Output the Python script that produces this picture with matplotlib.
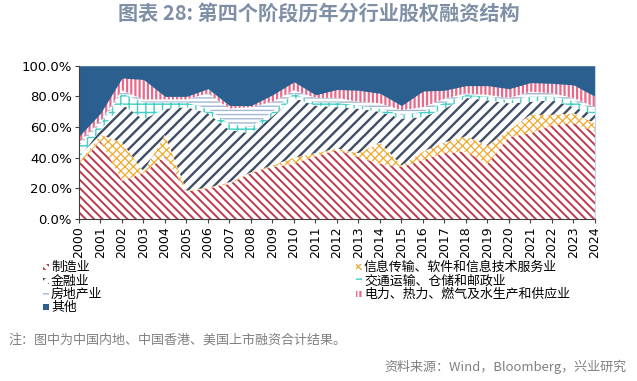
import numpy as np
import matplotlib
matplotlib.use("Agg")
import matplotlib.pyplot as plt
from matplotlib.patches import Rectangle

plt.rcParams['font.family'] = ['Noto Sans CJK SC', 'DejaVu Sans']
plt.rcParams['hatch.linewidth'] = 1.3

# ---- data (share of equity financing, %) ----
years = list(range(2000, 2025))
manufacturing = [36, 51, 25, 30, 41, 18, 20, 23, 30, 34, 36, 41, 45, 40.5, 36, 34, 38.5, 43, 44, 36, 53.5, 56, 61, 62.5, 57]
info_tech = [1, 4, 25, 1, 14, 0.5, 0.5, 1, 0.5, 1, 4, 2, 1, 2.5, 14, 1, 5.5, 7, 10, 12, 4.5, 12, 7, 6.5, 5.5]
finance = [3, 3, 25, 34, 17, 54.5, 48.5, 34, 25.5, 32, 39, 31, 27, 29, 20, 30.5, 22.5, 22, 25, 29.5, 17.5, 8.5, 9.5, 4, 5.5]
transport = [8, 4, 7, 11, 4, 3, 3, 4, 4, 3, 3, 2, 3, 2, 2, 2.5, 3.5, 4, 2, 2.5, 2, 3.5, 2.5, 4, 3]
real_estate = [2, 2, 2, 2, 2, 2, 10, 10, 13, 6.5, 2, 3, 3, 2.5, 3.5, 3, 3, 2.5, 1, 1, 1.5, 3, 2, 2, 2]
power = [4, 5, 8, 13, 2, 2, 3, 2, 1, 4.5, 5.5, 2, 5.5, 7.5, 6.5, 3, 10.5, 5.5, 5, 6, 6, 6, 6.5, 8.5, 7]
others = list(100 - np.sum([manufacturing, info_tech, finance, transport, real_estate, power], axis=0))

series_names = ["制造业", "信息传输、软件和信息技术服务业", "金融业", "交通运输、仓储和邮政业",
                "房地产业", "电力、热力、燃气及水生产和供应业", "其他"]
series_values = [manufacturing, info_tech, finance, transport, real_estate, power, others]

# styles: (hatch colour, hatch pattern, face colour, hatch linewidth)
styles = [
    ("#BE3A4E", "\\\\\\\\", "white", 1.4),
    ("#F0AA30", "xxxx", "white", 0.9),
    ("#3F4E66", "///", "white", 1.7),
    ("#3FCFC4", "++", "white", 1.0),
    ("#A3B8D4", "----", "white", 1.0),
    ("#E8698A", "||||", "white", 1.6),
    ("#2B5F8F", None, "#2B5F8F", 1.0),
]

fig = plt.figure(figsize=(6.37, 3.81), dpi=100)
ax = fig.add_axes([0.124, 0.425, 0.810, 0.4025])

x = np.array(years)
bottom = np.zeros(len(years))
for name, vals, (ec, hatch, fc, hlw) in zip(series_names, series_values, styles):
    top = bottom + np.array(vals)
    coll = ax.fill_between(x, bottom, top, facecolor=fc, edgecolor=ec, hatch=hatch, linewidth=0)
    if hasattr(coll, "set_hatch_linewidth"):
        coll.set_hatch_linewidth(hlw)
    bottom = top

ax.set_xlim(2000, 2024)
ax.set_ylim(0, 100)
ax.set_xticks(years)
ax.set_xticklabels([str(y) for y in years], rotation=90, fontsize=9, family="DejaVu Sans")
ax.set_yticks(range(0, 101, 20))
ax.set_yticklabels([f"{v:.1f}%" for v in range(0, 101, 20)], fontsize=9.5, family="DejaVu Sans")
ax.tick_params(axis="both", direction="out", length=3, width=0.8, color="#404040", pad=2)
ax.spines["top"].set_visible(False)
ax.spines["right"].set_color("#BDD7EE")
ax.spines["left"].set_color("#404040")
ax.spines["bottom"].set_color("#404040")

# legend drawn by hand: left column then right column
style_of = dict(zip(series_names, styles))
legend_cols = [
    (43, ["制造业", "金融业", "房地产业", "其他"]),
    (356, ["信息传输、软件和信息技术服务业", "交通运输、仓储和邮政业", "电力、热力、燃气及水生产和供应业"]),
]
row_y = [267, 281, 294, 307]
W, H = 637.0, 381.0
for x0, names in legend_cols:
    for name, y0 in zip(names, row_y):
        ec, hatch, fc, hlw = style_of[name]
        r = Rectangle((x0 / W, 1 - (y0 + 3) / H), 6 / W, 6 / H, transform=fig.transFigure,
                      facecolor=fc, edgecolor=ec, hatch=hatch, linewidth=0)
        if hasattr(r, "set_hatch_linewidth"):
            r.set_hatch_linewidth(hlw)
        fig.add_artist(r)
        fig.text((x0 + 8) / W, 1 - y0 / H, name, ha="left", va="center", fontsize=9.3, color="black")

fig.text(0.5, 0.963, "图表 28: 第四个阶段历年分行业股权融资结构", ha="center", va="center",
         fontsize=14.5, fontweight="bold", color="#7F8FA6")
fig.text(0.013, 0.108, "注：图中为中国内地、中国香港、美国上市融资合计结果。", ha="left", va="center",
         fontsize=9.4, color="#808080")
fig.text(0.983, 0.037, "资料来源：Wind，Bloomberg，兴业研究", ha="right", va="center",
         fontsize=9.4, color="#808080")

fig.savefig("out.png", dpi=100)
